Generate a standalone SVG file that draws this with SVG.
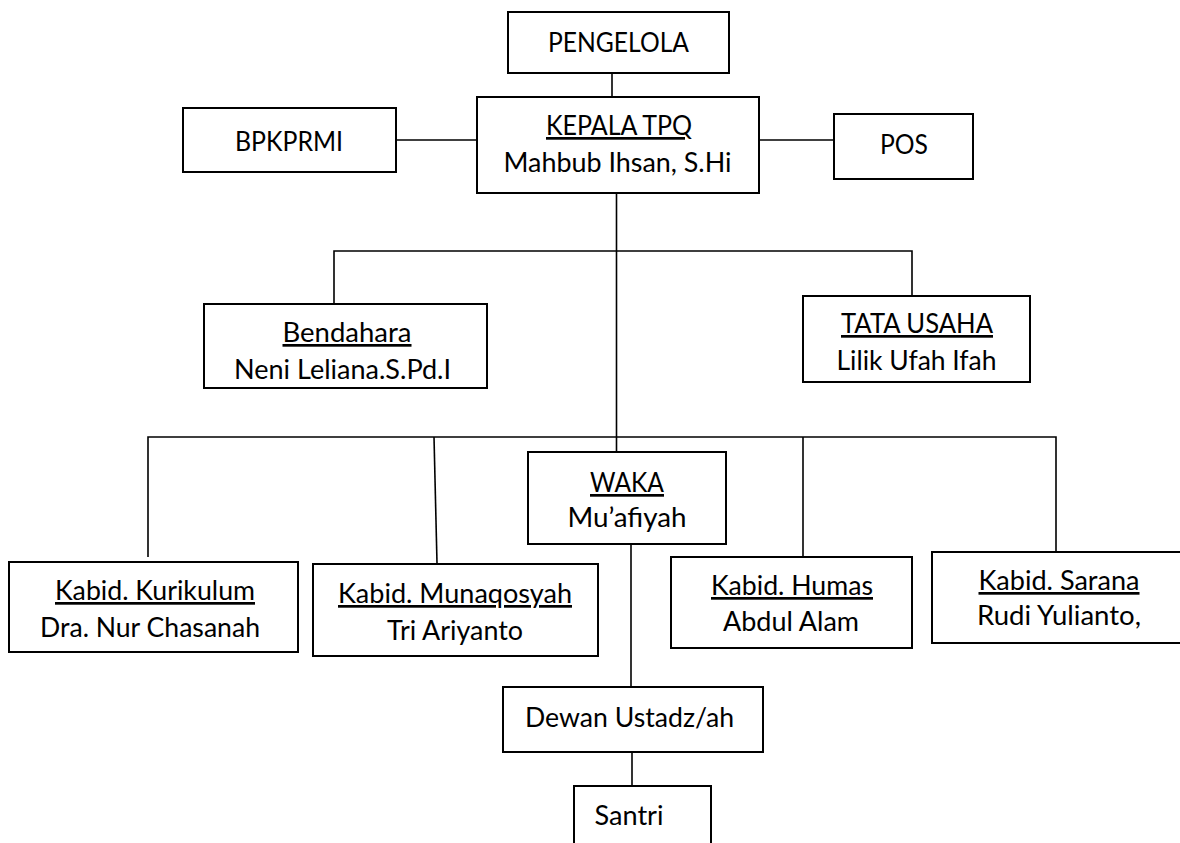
<svg xmlns="http://www.w3.org/2000/svg" width="1180" height="843" viewBox="0 0 1180 843">
<style>
.box{fill:#fff;stroke:#000;stroke-width:2}
.ln{fill:none;stroke:#000;stroke-width:1.6}
text{font-family:Lato,"Noto Sans","Liberation Sans",sans-serif;font-size:27px;fill:#000;text-anchor:middle}
.u{text-decoration:underline}
</style>
<rect width="1180" height="843" fill="#fff"/>
<g id="connectors">
<line class="ln" x1="612" y1="73" x2="612" y2="97"/>
<line class="ln" x1="396" y1="140" x2="477" y2="140"/>
<line class="ln" x1="759" y1="140" x2="834" y2="140"/>
<line class="ln" x1="616.5" y1="193" x2="616.5" y2="452"/>
<polyline class="ln" points="334,304 334,251 912,251 912,296"/>
<polyline class="ln" points="148,557 148,437 1056,437 1056,551"/>
<line class="ln" x1="434" y1="437" x2="437" y2="563"/>
<line class="ln" x1="803" y1="437" x2="803" y2="557"/>
<line class="ln" x1="631" y1="544" x2="631" y2="687"/>
<line class="ln" x1="632" y1="752" x2="632" y2="786"/>
</g>
<g id="pengelola">
<rect class="box" x="508" y="12" width="221" height="61"/>
<text x="618.5" y="52" textLength="141" lengthAdjust="spacingAndGlyphs">PENGELOLA</text>
</g>
<g id="kepala">
<rect class="box" x="477" y="97" width="282" height="96"/>
<text class="u" x="619" y="135" textLength="146" lengthAdjust="spacingAndGlyphs">KEPALA TPQ</text>
<text x="617.5" y="172" textLength="228" lengthAdjust="spacingAndGlyphs">Mahbub Ihsan, S.Hi</text>
</g>
<g id="bpkprmi">
<rect class="box" x="183" y="108" width="213" height="64"/>
<text x="289" y="151" textLength="108" lengthAdjust="spacingAndGlyphs">BPKPRMI</text>
</g>
<g id="pos">
<rect class="box" x="834" y="114" width="139" height="65"/>
<text x="904" y="154" textLength="48" lengthAdjust="spacingAndGlyphs">POS</text>
</g>
<g id="bendahara">
<rect class="box" x="204" y="304" width="283" height="84"/>
<text class="u" x="347" y="342" textLength="129" lengthAdjust="spacingAndGlyphs">Bendahara</text>
<text x="342.5" y="379" textLength="217" lengthAdjust="spacingAndGlyphs">Neni Leliana.S.Pd.I</text>
</g>
<g id="tata-usaha">
<rect class="box" x="803" y="296" width="227" height="86"/>
<text class="u" x="917" y="333" textLength="152" lengthAdjust="spacingAndGlyphs">TATA USAHA</text>
<text x="916.5" y="370" textLength="160" lengthAdjust="spacingAndGlyphs">Lilik Ufah Ifah</text>
</g>
<g id="waka">
<rect class="box" x="528" y="452" width="198" height="92"/>
<text class="u" x="627" y="492" textLength="74" lengthAdjust="spacingAndGlyphs">WAKA</text>
<text x="627" y="527" textLength="119" lengthAdjust="spacingAndGlyphs">Mu’afiyah</text>
</g>
<g id="kurikulum">
<rect class="box" x="9" y="562" width="289" height="90"/>
<text class="u" x="155" y="600" textLength="200" lengthAdjust="spacingAndGlyphs">Kabid. Kurikulum</text>
<text x="150" y="637" textLength="220" lengthAdjust="spacingAndGlyphs">Dra. Nur Chasanah</text>
</g>
<g id="munaqosyah">
<rect class="box" x="313" y="564" width="285" height="92"/>
<text class="u" x="455" y="603" textLength="234" lengthAdjust="spacingAndGlyphs">Kabid. Munaqosyah</text>
<text x="455" y="640" textLength="136" lengthAdjust="spacingAndGlyphs">Tri Ariyanto</text>
</g>
<g id="humas">
<rect class="box" x="671" y="557" width="241" height="91"/>
<text class="u" x="792" y="595" textLength="162" lengthAdjust="spacingAndGlyphs">Kabid. Humas</text>
<text x="791" y="631" textLength="136" lengthAdjust="spacingAndGlyphs">Abdul Alam</text>
</g>
<g id="sarana">
<rect class="box" x="932" y="552" width="260" height="91"/>
<text class="u" x="1059" y="590" textLength="161" lengthAdjust="spacingAndGlyphs">Kabid. Sarana</text>
<text x="1059" y="625" textLength="164" lengthAdjust="spacingAndGlyphs">Rudi Yulianto,</text>
</g>
<g id="dewan">
<rect class="box" x="503" y="687" width="260" height="65"/>
<text x="629.5" y="727" textLength="209" lengthAdjust="spacingAndGlyphs">Dewan Ustadz/ah</text>
</g>
<g id="santri">
<rect class="box" x="574" y="786" width="137" height="70"/>
<text x="629" y="825" textLength="69" lengthAdjust="spacingAndGlyphs">Santri</text>
</g>
</svg>
